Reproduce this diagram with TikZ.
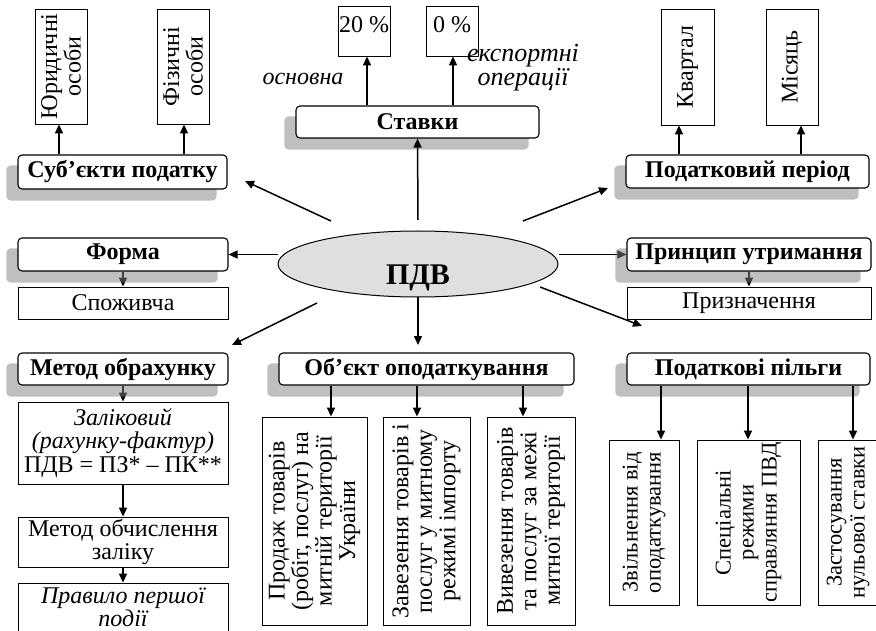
\documentclass[tikz,border=0pt]{standalone}
\usepackage{fontspec}
\setmainfont{Liberation Serif}
\usetikzlibrary{arrows.meta,shapes.geometric,calc}
\pgfdeclarelayer{arrbg}
\pgfdeclarelayer{shadow}
\pgfsetlayers{arrbg,shadow,main}
\newcommand{\basefs}{\fontsize{24}{23.5}\selectfont}
\newcommand{\smallfs}{\fontsize{22.5}{23}\selectfont}
\tikzset{
 base/.style={font=\basefs, inner sep=0pt, align=center},
 title/.style={base, draw, line width=1.1pt, rounded corners=4pt, fill=white, font=\basefs\bfseries},
 box/.style={base, draw, line width=0.8pt, fill=white},
 vbox/.style={box, rotate=90},
 arr/.style={line width=1.5pt, -{Triangle[length=9pt,width=8pt]}},
 shade/.style={fill=gray, opacity=0.5, rounded corners=4pt},
 itlabel/.style={base, font=\basefs\itshape},
}
\newcommand{\shadowof}[1]{\begin{pgfonlayer}{shadow}\fill[shade] ($(#1.south west)+(-11,11)$) rectangle ($(#1.north east)+(-11,11)$);\end{pgfonlayer}}
\begin{document}
\begin{tikzpicture}[x=1pt,y=-1pt]
\useasboundingbox (0,0) rectangle (876,631);
\clip (0,0) rectangle (876,631);

% ---------- top left
\node[title, minimum width=209, minimum height=34] (subj) at (122.5,172) {Суб’єкти податку};
\node[vbox, minimum width=115, minimum height=52] (yur) at (61,66.5) {Юридичні\\особи};
\node[vbox, minimum width=115, minimum height=52] (fiz) at (183,66.5) {Фізичні\\особи};
\draw[arr] ([xshift=-2]yur.west |- subj.north) -- ([xshift=-2]yur.west);
\draw[arr] ([xshift=1]fiz.west |- subj.north) -- ([xshift=1]fiz.west);

% ---------- top middle
\node[title, minimum width=243, minimum height=32] (stavky) at (417.5,122) {Ставки};
\node[box, minimum width=52, minimum height=50, text height=27, text depth=23] (p20) at (364,31) {20 \%};
\node[box, minimum width=52, minimum height=50, text height=27, text depth=23] (p0) at (452,31) {0 \%};
\draw[arr] ([xshift=3]p20.south |- stavky.north) -- ([xshift=3]p20.south);
\draw[arr] ([xshift=1]p0.south |- stavky.north) -- ([xshift=1]p0.south);
\node[itlabel] (osn) at (303,79) {основна};
\node[itlabel, font=\fontsize{26}{22}\selectfont\itshape] (eksp) at (523,68) {експортні\\операції};

% ---------- top right
\node[title, minimum width=243, minimum height=33] (period) at (747.5,171.5) {Податковий період};
\node[vbox, minimum width=116, minimum height=53] (kvartal) at (687.5,67) {Квартал};
\node[vbox, minimum width=116, minimum height=52] (misyats) at (792,67) {Місяць};
\draw[arr] ([xshift=-8.5]kvartal.west |- period.north) -- ([xshift=-8.5]kvartal.west);
\draw[arr] ([xshift=9]misyats.west |- period.north) -- ([xshift=9]misyats.west);

% ---------- middle
\node[ellipse, draw, fill=gray!25, line width=1pt, minimum width=280, minimum height=66, inner sep=0pt,
      text height=40, text depth=0, font=\fontsize{30}{32}\selectfont\bfseries] (pdv) at (418,264) {ПДВ};
\node[title, minimum width=210, minimum height=33] (forma) at (123,254.5) {Форма};
\node[box, minimum width=210, minimum height=32] (spozh) at (123,303) {Споживча};
\node[title, minimum width=244, minimum height=33] (pryntsyp) at (749,254.5) {Принцип утримання};
\node[box, minimum width=244, minimum height=32] (pryzn) at (749,303) {Призначення};

% ---------- bottom left
\node[title, minimum width=210, minimum height=32] (metod) at (123,369) {Метод обрахунку};
\node[box, minimum width=210, minimum height=82] (zalik) at (123,443)
  {\itshape Заліковий\\\itshape (рахунку-фактур)\\ПДВ = ПЗ* – ПК**};
\node[box, minimum width=210, minimum height=50] (obch) at (123,542) {Метод обчислення\\заліку};
\node[box, minimum width=210, minimum height=49] (pravylo) at (123,607.5) {\itshape Правило першої\\\itshape події};
\draw[arr] (zalik.south) -- (obch.north);
\draw[arr] (obch.south) -- (pravylo.north);

% ---------- bottom middle
\node[title, minimum width=295, minimum height=32] (obj) at (426.5,369) {Об’єкт оподаткування};
\node[vbox, minimum width=208, minimum height=105] (prodazh) at (314.5,521)
  {Продаж товарів\\(робіт, послуг) на\\митній території\\України};
\node[vbox, minimum width=208, minimum height=87] (zavez) at (426.5,521)
  {Завезення товарів і\\послуг у митному\\режимі імпорту};
\node[vbox, minimum width=208, minimum height=88] (vyvez) at (531,521)
  {Вивезення товарів\\та послуг за межі\\митної території};
\draw[arr] ([xshift=16.5]prodazh.east |- obj.south) -- ([xshift=16.5]prodazh.east);
\draw[arr] ([xshift=-9.5]zavez.east |- obj.south) -- ([xshift=-9.5]zavez.east);
\draw[arr] ([xshift=-8]vyvez.east |- obj.south) -- ([xshift=-8]vyvez.east);

% ---------- bottom right
\node[title, minimum width=243, minimum height=32] (pilhy) at (748.5,369) {Податкові пільги};
\node[vbox, font=\smallfs, minimum width=165, minimum height=70] (zvil) at (644,522.5) {Звільнення від\\оподаткування};
\node[vbox, font=\smallfs, minimum width=165, minimum height=103] (spets) at (748.5,522.5) {Спеціальні\\режими\\справляння ПВД};
\node[vbox, font=\smallfs, minimum width=165, minimum height=60] (zastos) at (848,522.5) {Застосування\\нульової ставки};
\draw[arr] ([xshift=17]zvil.east |- pilhy.south) -- ([xshift=17]zvil.east);
\draw[arr] ([xshift=-0.5]spets.east |- pilhy.south) -- ([xshift=-0.5]spets.east);
\draw[arr] ([xshift=5]zastos.east |- pilhy.south) -- ([xshift=5]zastos.east);

% ---------- radial connectors
\coordinate (ul0) at (331,221);
\coordinate (ul1) at (245,181);
\coordinate (ur0) at (523,221);
\coordinate (ur1) at (608,188);
\coordinate (ll0) at (317,303);
\coordinate (ll1) at (232,345);
\coordinate (lr0) at (540,287);
\coordinate (lr1) at (642,326);
\coordinate (up0) at (418,220);
\coordinate (dn1) at (418,345);
\draw[arr] (ul0) -- (ul1);
\draw[arr] (ur0) -- (ur1);
\draw[arr] (ll0) -- (ll1);
\draw[arr] (lr0) -- (lr1);
\draw[arr] (up0) -- (stavky.south);
\draw[arr] (pdv.south) -- (dn1);
\draw[arr] (forma.east -| pdv.west) -- (forma.east);

% ---------- arrows partly covered by shadows
\begin{pgfonlayer}{arrbg}
\draw[arr] (forma.south) -- (spozh.north);
\draw[arr] (pryntsyp.south) -- (pryzn.north);
\draw[arr] (metod.south) -- (zalik.north);
\draw[arr] (pryntsyp.west -| pdv.east) -- (pryntsyp.west);
\end{pgfonlayer}

% ---------- shadows
\shadowof{subj}
\shadowof{stavky}
\shadowof{period}
\shadowof{forma}
\shadowof{pryntsyp}
\shadowof{metod}
\shadowof{obj}
\shadowof{pilhy}
\end{tikzpicture}
\end{document}
